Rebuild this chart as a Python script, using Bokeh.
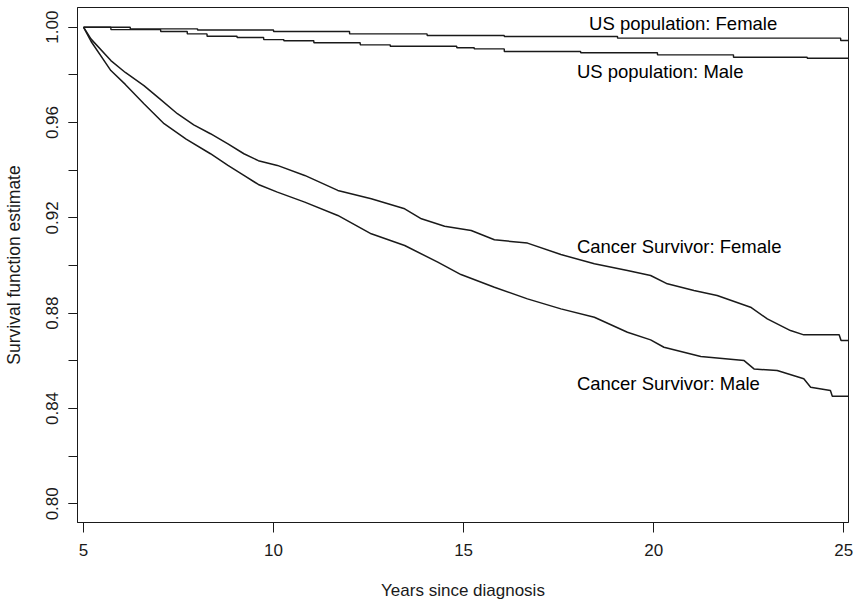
from bokeh.plotting import figure
from bokeh.models import Range1d, FixedTicker, ColumnDataSource, NumeralTickFormatter
from bokeh.core.properties import value
from bokeh.embed import file_html
from bokeh.resources import INLINE

# ---- data ----
cs_female_years = [5.0, 5.2, 5.72, 6.1, 6.59, 7.0, 7.47, 7.9, 8.34, 8.8, 9.22, 9.6, 10.1,
                   10.82, 11.69, 12.57, 13.45, 13.89, 14.5, 15.2, 15.81, 16.68, 17.56,
                   18.44, 19.31, 19.92, 20.36, 21.06, 21.67, 22.55, 22.99, 23.6, 23.95,
                   24.88, 24.93, 25.12]
cs_female_surv = [1.000, 0.995, 0.986, 0.981, 0.9755, 0.970, 0.9637, 0.959, 0.9553, 0.951,
                  0.9469, 0.944, 0.942, 0.9378, 0.9315, 0.928, 0.9238, 0.9196, 0.9165,
                  0.9147, 0.9108, 0.9094, 0.9046, 0.9007, 0.8979, 0.8958, 0.8923, 0.8895,
                  0.8874, 0.8825, 0.8776, 0.8727, 0.8709, 0.8709, 0.8685, 0.8685]

cs_male_years = [5.0, 5.2, 5.72, 6.1, 6.59, 7.12, 7.7, 8.34, 8.8, 9.22, 9.6, 10.1, 10.82,
                 11.69, 12.57, 13.45, 14.32, 14.93, 15.81, 16.68, 17.56, 18.44, 19.31,
                 19.92, 20.27, 21.24, 22.38, 22.64, 23.25, 23.95, 24.13, 24.65, 24.7, 25.12]
cs_male_surv = [1.000, 0.994, 0.9818, 0.976, 0.9679, 0.9595, 0.953, 0.9469, 0.942, 0.9378,
                0.934, 0.9308, 0.9266, 0.921, 0.9133, 0.9084, 0.9014, 0.8962, 0.8909,
                0.886, 0.8818, 0.8783, 0.872, 0.8688, 0.8657, 0.8618, 0.8601, 0.8566,
                0.8559, 0.8525, 0.8489, 0.8475, 0.8451, 0.8451]

us_female_years = [5.0, 6.23, 8.0, 10.0, 12.0, 14.04, 16.07, 19.05, 24.92, 25.12]
us_female_surv = [1.0000, 0.9993, 0.9988, 0.9982, 0.9972, 0.9965, 0.9961, 0.9954, 0.9944, 0.9944]

us_male_years = [5.0, 5.72, 7.03, 7.73, 8.25, 9.04, 9.74, 10.27, 11.06, 12.28, 13.07,
                 14.82, 15.28, 16.07, 18.08, 20.1, 22.1, 24.04, 25.12]
us_male_surv = [1.0000, 0.9990, 0.9982, 0.9972, 0.9962, 0.9957, 0.9948, 0.9943, 0.9935,
                0.9926, 0.9920, 0.9914, 0.9909, 0.9898, 0.9893, 0.9884, 0.9874, 0.9870, 0.9870]

x_ticks = [5, 10, 15, 20, 25]
y_major_ticks = [0.80, 0.84, 0.88, 0.92, 0.96, 1.00]
y_minor_ticks = [0.80, 0.82, 0.84, 0.86, 0.88, 0.90, 0.92, 0.94, 0.96, 0.98, 1.00]

curve_labels = ["US population: Female", "US population: Male",
                "Cancer Survivor: Female", "Cancer Survivor: Male"]

# label anchor positions (layout)
label_x = [18.3, 17.98, 17.98, 17.98]
label_y = [1.00156, 0.98129, 0.90785, 0.85048]

AXIS_FONT = "Liberation Sans"
TEXT_FONT = "Liberation Sans"
INK = "#1a1a1a"

p = figure(width=856, height=602,
           x_range=Range1d(4.842, 25.126), y_range=Range1d(0.79215, 1.00827),
           output_backend="svg", toolbar_location=None,
           min_border_left=76, min_border_right=8, min_border_top=7, min_border_bottom=80)

p.xgrid.visible = False
p.ygrid.visible = False
p.outline_line_color = INK
p.outline_line_width = 1
p.background_fill_color = "white"
p.border_fill_color = "white"

# x axis
xa = p.xaxis[0]
xa.ticker = FixedTicker(ticks=x_ticks, minor_ticks=[])
xa.axis_line_color = INK
xa.major_tick_line_color = INK
xa.major_tick_out = 10
xa.major_tick_in = 0
xa.minor_tick_out = 0
xa.major_label_text_font = AXIS_FONT
xa.major_label_text_font_size = "17px"
xa.major_label_text_color = INK
xa.major_label_standoff = 11
xa.axis_label = "Years since diagnosis"
xa.axis_label_text_font = AXIS_FONT
xa.axis_label_text_font_size = "17px"
xa.axis_label_text_font_style = "normal"
xa.axis_label_text_color = INK
xa.axis_label_standoff = 22

# y axis
ya = p.yaxis[0]
ya.ticker = FixedTicker(ticks=y_major_ticks, minor_ticks=y_minor_ticks)
ya.formatter = NumeralTickFormatter(format="0.00")
ya.axis_line_color = INK
ya.major_tick_line_color = INK
ya.minor_tick_line_color = INK
ya.major_tick_out = 9
ya.major_tick_in = 0
ya.minor_tick_out = 9
ya.minor_tick_in = 0
ya.major_label_orientation = "parallel"
ya.major_label_text_font = AXIS_FONT
ya.major_label_text_font_size = "17px"
ya.major_label_text_color = INK
ya.major_label_standoff = 10
ya.axis_label = "Survival function estimate"
ya.axis_label_text_font = AXIS_FONT
ya.axis_label_text_font_size = "17.5px"
ya.axis_label_text_font_style = "normal"
ya.axis_label_text_color = INK
ya.axis_label_standoff = 20

# curves
p.step(us_female_years, us_female_surv, mode="after", line_color=INK, line_width=1.4)
p.step(us_male_years, us_male_surv, mode="after", line_color=INK, line_width=1.4)
p.line(cs_female_years, cs_female_surv, line_color=INK, line_width=1.5)
p.line(cs_male_years, cs_male_surv, line_color=INK, line_width=1.5)

src = ColumnDataSource(dict(x=label_x, y=label_y, text=curve_labels))
p.text(x="x", y="y", text="text", source=src,
       text_font=value(TEXT_FONT), text_font_size=value("18.5px"),
       text_baseline="alphabetic", text_align="left", text_color="black")

open("out.html", "w").write(file_html(p, INLINE))
